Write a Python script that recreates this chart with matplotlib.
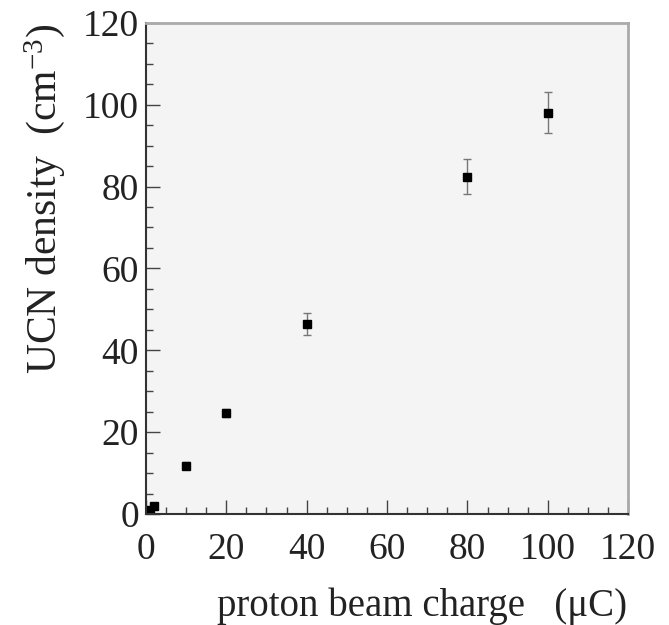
import numpy as np
import matplotlib
matplotlib.use("Agg")
import matplotlib.pyplot as plt
from matplotlib.ticker import MultipleLocator

plt.rcParams['font.family'] = ['Liberation Serif', 'DejaVu Serif']
plt.rcParams['mathtext.fontset'] = 'custom'
plt.rcParams['mathtext.rm'] = 'Liberation Serif'
plt.rcParams['mathtext.it'] = 'Liberation Serif:italic'

# data
charge = [1, 2, 10, 20, 40, 80, 100]          # proton beam charge (uC)
density = [1.0, 2.0, 11.8, 24.7, 46.4, 82.4, 98.0]  # UCN density (cm^-3)
density_err = [0.3, 0.4, 0.8, 1.0, 2.6, 4.2, 5.0]

fig = plt.figure(figsize=(6.69, 6.25), dpi=100)
ax = fig.add_axes([0.218, 0.1776, 0.721, 0.786])
ax.set_facecolor('#f4f4f4')

ax.errorbar(charge, density, yerr=density_err, fmt='s', color='black',
            markersize=6, ecolor='#777777', elinewidth=1.0, capsize=3,
            capthick=1.0)

ax.set_xlim(0, 120)
ax.set_ylim(0, 120)
ax.xaxis.set_major_locator(MultipleLocator(20))
ax.xaxis.set_minor_locator(MultipleLocator(5))
ax.yaxis.set_major_locator(MultipleLocator(20))
ax.yaxis.set_minor_locator(MultipleLocator(5))

ax.tick_params(which='both', direction='in', top=False, right=False,
               color='#444444', width=1.0)
ax.tick_params(which='major', length=10, labelsize=27, pad=5, labelcolor='#222222')
ax.tick_params(which='minor', length=5)
ax.tick_params(axis='x', which='major', pad=13)

for side in ['left', 'bottom']:
    ax.spines[side].set_color('#333333')
    ax.spines[side].set_linewidth(1.5)
for side in ['top', 'right']:
    ax.spines[side].set_color('#aaaaaa')
    ax.spines[side].set_linewidth(2.0)

fig.text(45 / 669, 1 - 24 / 625, 'UCN density  (cm$^{-3}$)', rotation=90,
         ha='center', va='top', fontsize=30, color='#222222')
fig.text(627 / 669, 1 - 606 / 625, 'proton beam charge   (\u03bcC)',
         ha='right', va='center', fontsize=28, color='#222222')

fig.savefig('out.png', dpi=100)
